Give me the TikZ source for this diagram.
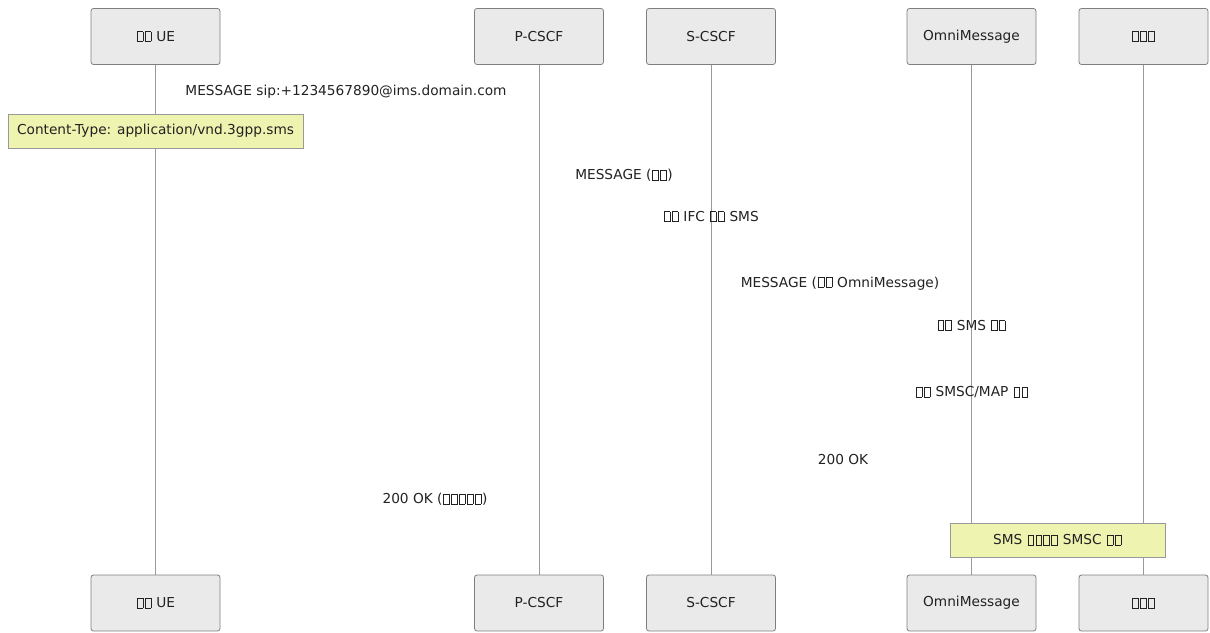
\documentclass[tikz,border=0pt]{standalone}
\usepackage{fontspec}
\setmainfont{DejaVu Sans}
\newcommand{\tf}{\kern0.06em{\setlength{\fboxsep}{0pt}\setlength{\fboxrule}{0.4pt}\fbox{\rule{0pt}{0.7em}\rule{0.4em}{0pt}}}\kern0.06em}
\definecolor{actfill}{HTML}{EAEAEA}
\definecolor{actdraw}{HTML}{7F7F7F}
\definecolor{notefill}{HTML}{EEF3B0}
\definecolor{notedraw}{HTML}{999999}
\definecolor{lifeline}{HTML}{999999}
\definecolor{txt}{HTML}{222222}
\begin{document}
\begin{tikzpicture}[x=1pt,y=-1pt,
  actor/.style={draw=actdraw,fill=actfill,rounded corners=2.5pt,minimum width=129pt,minimum height=56pt,inner sep=0pt,font=\fontsize{13.7}{16}\selectfont,text=txt,line width=0.8pt},
  notebox/.style={draw=notedraw,fill=notefill,minimum height=34pt,inner sep=0pt,font=\fontsize{13.7}{16}\selectfont,text=txt,line width=0.8pt},
  msg/.style={font=\fontsize{13.7}{16}\selectfont,text=txt,inner sep=0pt},
  life/.style={draw=lifeline,line width=0.8pt}]
\useasboundingbox (0,0) rectangle (1210,632);
% actors top
\node[actor] (ueT) at (155.5,36.5) {\tf\tf{} UE};
\node[actor] (pT) at (539,36.5) {P-CSCF};
\node[actor] (sT) at (711,36.5) {S-CSCF};
\node[actor] (oT) at (971.5,36.5) {OmniMessage};
\node[actor] (xT) at (1143.5,36.5) {\tf\tf\tf};
% actors bottom
\node[actor] (ueB) at (155.5,603) {\tf\tf{} UE};
\node[actor] (pB) at (539,603) {P-CSCF};
\node[actor] (sB) at (711,603) {S-CSCF};
\node[actor] (oB) at (971.5,603) {OmniMessage};
\node[actor] (xB) at (1143.5,603) {\tf\tf\tf};
% lifelines
\draw[life] (ueT) -- (ueB);
\draw[life] (pT) -- (pB);
\draw[life] (sT) -- (sB);
\draw[life] (oT) -- (oB);
\draw[life] (xT) -- (xB);
% notes
\node[notebox,minimum width=295pt] (n1) at (155.5,131) {Content-Type: application/vnd.3gpp.sms};
\node[notebox,minimum width=215pt] (n2) at (1057.5,540) {SMS \tf\tf\tf\tf{} SMSC \tf\tf};
% messages
\node[msg] (m1) at (346,91.5) {MESSAGE sip:+1234567890@ims.domain.com};
\node[msg] (m2) at (624,175.5) {MESSAGE (\tf\tf)};
\node[msg] (m3) at (711,216.5) {\tf\tf{} IFC \tf\tf{} SMS};
\node[msg] (m4) at (840,283.5) {MESSAGE (\tf\tf{} OmniMessage)};
\node[msg] (m5) at (971.5,325.5) {\tf\tf{} SMS \tf\tf};
\node[msg] (m6) at (972,392.5) {\tf\tf{} SMSC/MAP \tf\tf};
\node[msg] (m7) at (843,459.5) {200 OK};
\node[msg] (m8) at (435,499.5) {200 OK (\tf\tf\tf\tf\tf)};
\end{tikzpicture}
\end{document}
